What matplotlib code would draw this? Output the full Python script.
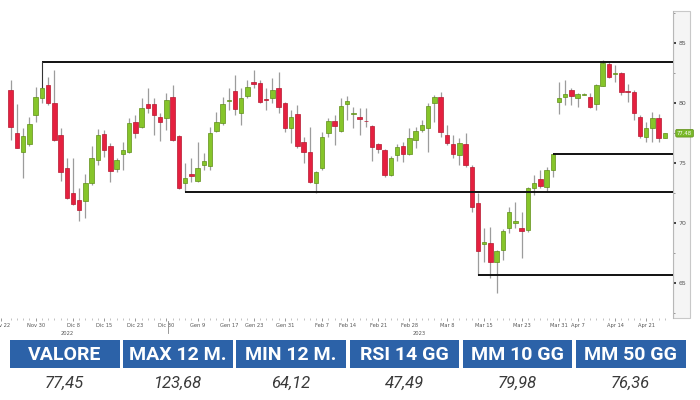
import matplotlib
matplotlib.use("Agg")
import matplotlib.pyplot as plt
import matplotlib.transforms as mtransforms
from matplotlib.patches import Rectangle
import numpy as np

# candele giornaliere (apertura, massimo, minimo, chiusura)
opens = [81.08, 77.47, 75.94, 76.58, 79.00, 80.44, 81.50, 80.03, 77.33, 74.58,
         72.50, 71.92, 71.86, 73.36, 75.25, 77.42, 76.44, 74.50, 75.73, 75.94,
         78.44, 78.03, 79.89, 79.89, 78.86, 78.73, 80.53, 77.25, 73.31, 74.08,
         73.50, 74.83, 74.78, 77.67, 78.31, 80.17, 81.00, 79.14, 80.61, 81.78,
         81.64, 80.31, 80.44, 81.23, 80.03, 77.94, 79.06, 76.78, 75.94, 73.36,
         74.56, 77.53, 78.50, 77.67, 79.94, 79.12, 78.86, 78.50, 78.11, 76.56,
         76.08, 74.00, 75.67, 76.44, 75.73, 76.89, 77.75, 77.89, 79.97, 80.53,
         77.33, 76.56, 75.67, 76.56, 74.69, 71.64, 68.23, 68.31, 66.73, 67.75,
         69.56, 70.04, 69.61, 69.42, 72.94, 73.67, 73.03, 74.42, 80.11, 80.50,
         81.08, 80.44, 80.70, 80.53, 79.92, 81.44, 83.23, 82.43, 82.48, 80.98,
         80.94, 78.86, 77.17, 77.94, 78.78, 77.11]
highs = [81.92, 79.92, 77.92, 78.83, 81.36, 81.33, 82.19, 82.75, 77.92, 75.42,
         75.44, 72.94, 74.08, 76.44, 77.83, 77.75, 76.67, 75.42, 76.75, 78.75,
         79.00, 80.42, 81.25, 80.42, 79.17, 80.83, 81.50, 77.33, 75.00, 75.42,
         76.78, 75.83, 78.03, 79.28, 80.53, 81.23, 82.33, 81.23, 81.92, 82.75,
         81.92, 81.23, 82.11, 82.61, 80.08, 79.42, 79.83, 77.19, 78.03, 74.33,
         77.61, 78.73, 79.00, 80.44, 80.61, 79.69, 79.56, 79.58, 78.17, 76.67,
         76.17, 75.58, 76.56, 76.78, 77.89, 78.03, 78.58, 79.97, 80.67, 80.94,
         78.17, 77.33, 77.06, 77.47, 74.83, 72.50, 69.56, 69.69, 67.75, 69.50,
         71.36, 71.78, 70.94, 73.00, 74.00, 74.42, 74.69, 75.79, 81.78, 81.92,
         81.27, 80.83, 80.83, 80.81, 81.58, 83.58, 83.50, 83.17, 82.58, 81.56,
         81.08, 79.00, 78.44, 79.23, 79.06, 77.48]
lows = [76.92, 76.25, 73.75, 76.42, 78.44, 80.00, 79.83, 76.83, 73.50, 72.00,
        71.50, 70.19, 70.42, 73.17, 74.83, 75.53, 73.44, 74.25, 74.42, 75.83,
        77.06, 77.89, 79.17, 77.33, 76.83, 77.75, 76.83, 72.83, 72.61, 73.44,
        73.42, 74.42, 74.42, 77.58, 78.17, 79.42, 79.00, 78.17, 80.42, 81.25,
        80.00, 79.42, 79.97, 79.14, 77.61, 76.64, 76.22, 74.97, 73.31, 72.50,
        74.42, 77.19, 76.50, 77.58, 78.58, 77.89, 77.33, 78.03, 75.17, 75.81,
        73.86, 73.92, 75.17, 75.06, 75.67, 76.22, 77.61, 75.94, 78.44, 77.19,
        76.50, 75.39, 74.83, 74.69, 70.94, 65.67, 66.78, 65.39, 64.20, 66.92,
        69.14, 69.58, 67.06, 69.25, 72.33, 72.89, 72.61, 73.86, 79.06, 79.83,
        79.83, 79.69, 80.67, 79.56, 79.42, 81.42, 82.08, 81.78, 80.67, 80.11,
        78.58, 77.06, 76.72, 76.72, 76.75, 77.11]
closes = [78.03, 76.28, 77.25, 78.25, 80.53, 81.23, 80.00, 76.92, 74.28, 72.08,
          71.58, 71.08, 73.31, 75.42, 77.33, 76.08, 74.33, 75.25, 76.08, 78.31,
          77.47, 79.61, 79.56, 79.00, 78.44, 80.25, 76.92, 72.89, 73.75, 73.89,
          74.58, 75.17, 77.47, 78.44, 79.89, 80.25, 79.50, 80.39, 81.36, 81.61,
          80.11, 80.23, 81.08, 79.69, 77.94, 78.86, 76.44, 75.89, 73.44, 74.22,
          77.14, 78.50, 78.11, 79.78, 80.17, 79.17, 78.64, 78.46, 76.36, 76.17,
          74.00, 75.39, 76.36, 75.73, 77.06, 77.67, 78.17, 79.78, 80.53, 77.61,
          76.64, 75.73, 76.64, 74.83, 71.36, 67.67, 68.44, 66.78, 67.67, 69.36,
          70.94, 70.17, 69.33, 72.89, 73.31, 73.11, 74.42, 75.73, 80.44, 80.73,
          80.61, 80.73, 80.77, 79.69, 81.50, 83.31, 82.19, 82.50, 80.89, 80.89,
          79.14, 77.28, 77.94, 78.78, 77.11, 77.48]

# etichette asse x (indice della candela)
tick_pos = [-1.5, 4, 10, 15, 20, 25, 30, 35, 39, 44, 50, 54, 59, 64, 70, 76, 82, 88, 91, 97, 102]
tick_labels = ["Nov 22", "Nov 30", "Dic 8", "Dic 15", "Dic 23", "Dic 30", "Gen 9", "Gen 17",
               "Gen 23", "Gen 31", "Feb 7", "Feb 14", "Feb 21", "Feb 28", "Mar 8", "Mar 15",
               "Mar 23", "Mar 31", "Apr 7", "Apr 14", "Apr 21"]
year_pos = [9, 65.5]
year_labels = ["2022", "2023"]

# supporti e resistenze: (livello, candela di partenza)
levels = [83.42, 72.58, 65.67, 75.78]
level_start = [5, 28, 75, 87]

# tabella sotto il grafico
table_head = ["VALORE", "MAX 12 M.", "MIN 12 M.", "RSI 14 GG", "MM 10 GG", "MM 50 GG"]
table_vals = ["77,45", "123,68", "64,12", "47,49", "79,98", "76,36"]

RED = "#e5203f"
RED_EDGE = "#b5172f"
GREEN = "#86c52a"
GREEN_EDGE = "#5f8e18"
WICK = "#9c9c9c"
BLUE = "#2c62a8"

W, H = 700, 400
fig = plt.figure(figsize=(7, 4), dpi=100)

# riquadro grigio dell'asse dei prezzi (sotto il grafico)
fig.patches.append(Rectangle((673 / W, 82 / H), 17 / W, 307 / H, transform=fig.transFigure,
                             facecolor="#f5f5f5", edgecolor="#c8c8c8", lw=0.8, zorder=-5))

ax = fig.add_axes([0, 82 / H, 673 / W, 307 / H])
ax.set_zorder(2)

x = np.arange(len(opens))
o = np.array(opens)
c = np.array(closes)
up = c >= o

ax.vlines(x, lows, highs, color=WICK, lw=0.9, zorder=1)
bottom = np.minimum(o, c)
height = np.maximum(np.abs(c - o), 0.08)
ax.bar(x[up], height[up], bottom=bottom[up], width=0.72,
       color=GREEN, edgecolor=GREEN_EDGE, lw=0.5, zorder=2)
ax.bar(x[~up], height[~up], bottom=bottom[~up], width=0.72,
       color=RED, edgecolor=RED_EDGE, lw=0.5, zorder=2)

xmax = 106.3
for lv, s in zip(levels, level_start):
    ax.plot([s, xmax], [lv, lv], color="#111111", lw=1.4, zorder=3, solid_capstyle="butt")
# collegamento della resistenza alla candela
ax.plot([level_start[0], level_start[0]], [levels[0], highs[level_start[0]]],
        color="#333333", lw=0.8, zorder=3)

ax.set_xlim(-1.72, xmax)
ax.set_ylim(62.08, 87.67)

ax.yaxis.tick_right()
ax.set_yticks([65, 70, 75, 80, 85])
ax.set_yticks(np.arange(62.5, 88, 2.5), minor=True)
ax.tick_params(axis="y", which="major", length=2, width=1.2, color="#222222",
               labelsize=4.5, labelcolor="#555555", pad=2)
ax.tick_params(axis="y", which="minor", length=1.5, width=0.6, color="#888888")

ax.set_xticks(tick_pos)
ax.set_xticklabels(tick_labels)
ax.set_xticks(x, minor=True)
ax.tick_params(axis="x", which="major", length=2, width=0.6, color="#888888",
               labelsize=3.7, labelcolor="#555555", pad=1.5)
ax.tick_params(axis="x", which="minor", length=1.5, width=0.5, color="#aaaaaa")

for s in ["top", "left", "bottom"]:
    ax.spines[s].set_visible(False)
ax.spines["right"].set_color("#b8b8b8")
ax.spines["right"].set_linewidth(0.8)

trans = mtransforms.blended_transform_factory(ax.transData, ax.transAxes)
for yp, yl in zip(year_pos, year_labels):
    ax.text(yp, -0.052, yl, transform=trans, ha="center", va="center",
            fontsize=3.7, color="#555555")
ax.plot([25.3, 25.3], [-0.01, -0.05], transform=trans, color="#888888",
        lw=0.6, clip_on=False)

# etichetta ultimo prezzo
trans_y = mtransforms.blended_transform_factory(ax.transAxes, ax.transData)
ax.text(1.006, closes[-1], f"{closes[-1]:.2f}", transform=trans_y, ha="left", va="center",
        fontsize=3.8, color="white", zorder=5, clip_on=False,
        bbox=dict(boxstyle="round,pad=0.25", fc="#79b82a", ec="#5f8e18", lw=0.5))

# tabella
tab = fig.add_axes([0, 0, 1, 1])
tab.set_xlim(0, W)
tab.set_ylim(H, 0)
tab.axis("off")
tab.set_zorder(1)
col_w = 113.2
for i, (hd, val) in enumerate(zip(table_head, table_vals)):
    left = 10 + i * col_w
    tab.add_patch(Rectangle((left, 340), 109.5, 28, facecolor=BLUE, edgecolor="none"))
    tab.text(left + 54.75, 354.5, hd, ha="center", va="center", color="white",
             fontsize=14, fontweight="bold", family="Roboto")
    tab.text(left + 54.75, 383.5, val, ha="center", va="center", color="#3a3a3a",
             fontsize=12, style="italic", family="Roboto")

fig.savefig("out.png", dpi=100)
